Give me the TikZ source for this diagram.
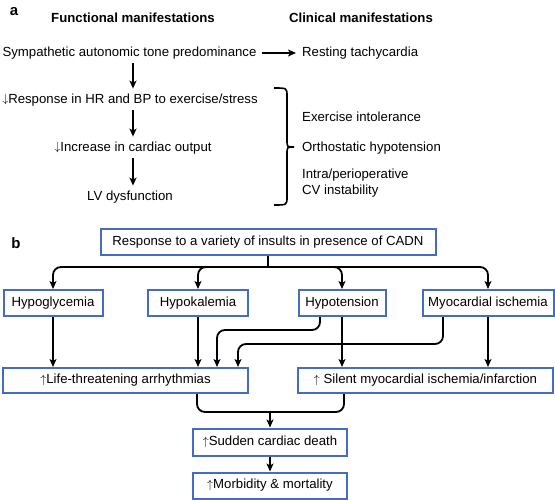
\documentclass[tikz,border=0pt]{standalone}
\usepackage{fontspec}
\setmainfont{Liberation Sans}
\usetikzlibrary{arrows.meta}
\definecolor{boxblue}{RGB}{68,108,196}
\newcommand{\dnar}{\raisebox{0.5pt}{$\downarrow$}}
\newcommand{\upar}{\raisebox{0.5pt}{$\uparrow$}}
\begin{document}
\begin{tikzpicture}[x=1pt,y=-1pt,
 every node/.style={font=\fontsize{13.2}{15.5}\selectfont, inner sep=0pt},
 arr/.style={-{Stealth[length=8pt,width=7pt,inset=2pt]}, line width=1.8pt},
 con/.style={line width=1.8pt},
 bx/.style={draw=boxblue, line width=2pt, minimum height=26pt},
 hd/.style={font=\fontsize{13.2}{15.5}\selectfont\bfseries},
 lab/.style={font=\fontsize{15}{17}\selectfont\bfseries},
]
\useasboundingbox (0,0) rectangle (555,500);
% panel a
\node[lab] (la) at (14,12) {a};
\node[hd] (fm) at (133,18) {Functional manifestations};
\node[hd] (cm) at (361,18) {Clinical manifestations};
\node (s1) at (129.5,53) {Sympathetic autonomic tone predominance};
\node[anchor=west] (rt) at (302,53) {Resting tachycardia};
\node (s2) at (130,100) {\dnar Response in HR and BP to exercise/stress};
\node (s3) at (133,148) {\dnar Increase in cardiac output};
\node (s4) at (130,197) {LV dysfunction};
\node[anchor=west] (c1) at (302,117) {Exercise intolerance};
\node[anchor=west] (c2) at (302,148) {Orthostatic hypotension};
\node[anchor=west, align=left] (c3) at (302,183) {Intra/perioperative\\CV instability};
\coordinate (ax) at (133,0);
\draw[arr, shorten <=5pt, shorten >=6pt] (s1) -- (rt);
\draw[arr, shorten <=4pt, shorten >=5pt] (s1.south -| ax) -- (s2.north -| ax);
\draw[arr, shorten <=4pt, shorten >=5pt] (s2.south -| ax) -- (s3.north -| ax);
\draw[arr, shorten <=4pt, shorten >=5pt] (s3.south -| ax) -- (s4.north -| ax);
\draw[line width=1.6pt] (274,88) .. controls (287,88) .. (287,96) -- (287,140)
  .. controls (287,147) .. (294,147) .. controls (287,147) .. (287,154)
  -- (287,197) .. controls (287,205) .. (274,205);
% panel b
\node[lab] (lb) at (16,243) {b};
\node[bx, minimum width=335pt] (top) at (268,242) {Response to a variety of insults in presence of CADN};
\node[bx, minimum width=99pt] (hg) at (53,303) {Hypoglycemia};
\node[bx, minimum width=100pt] (hk) at (198,303) {Hypokalemia};
\node[bx, minimum width=87pt] (ht) at (342,303) {Hypotension};
\node[bx, minimum width=131pt] (mi) at (488,303) {Myocardial ischemia};
\node[bx, minimum width=245pt, minimum height=25pt] (lt) at (125.5,380.5) {\upar Life-threatening arrhythmias};
\node[bx, minimum width=255pt, minimum height=25pt] (sm) at (425.5,380.5) {\upar\ Silent myocardial ischemia/infarction\hspace{20pt}};
\node[bx, minimum width=154pt, minimum height=27pt] (sd) at (270,442) {\upar Sudden cardiac death};
\node[bx, minimum width=154pt] (mm) at (270,485.5) {\upar Morbidity \& mortality};
\coordinate (sp) at (268,267);
\draw[con] (top.south) -- (sp);
\draw[arr, rounded corners=8pt] (sp) -| (hg.north);
\draw[arr, rounded corners=8pt] (sp) -| (hk.north);
\draw[arr, rounded corners=8pt] (sp) -| (ht.north);
\draw[arr, rounded corners=8pt] (sp) -| (mi.north);
\draw[arr] (hg.south) -- (hg.south |- lt.north);
\draw[arr] (hk.south) -- (hk.south |- lt.north);
\coordinate (ha) at (217,330);
\coordinate (ma) at (238,344);
\draw[arr, rounded corners=8pt] ([xshift=-22pt]ht.south) |- (ha) -- (ha |- lt.north);
\draw[arr, rounded corners=8pt] ([xshift=-45pt]mi.south) |- (ma) -- (ma |- lt.north);
\draw[arr] (ht.south) -- (ht.south |- sm.north);
\draw[arr] (mi.south) -- (mi.south |- sm.north);
\coordinate (jn) at (270,412);
\draw[con, rounded corners=8pt] ([xshift=71.5pt]lt.south) |- (jn) -| ([xshift=-81.5pt]sm.south);
\draw[arr] (jn) -- (sd.north);
\draw[arr] (sd.south) -- (mm.north);
\end{tikzpicture}
\end{document}
